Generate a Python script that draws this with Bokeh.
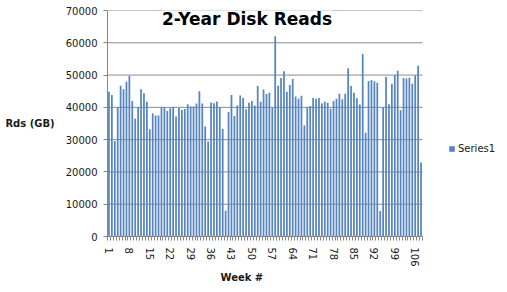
from bokeh.plotting import figure
from bokeh.models import (Range1d, FixedTicker, Label, Title,
                          Legend, LegendItem, ColumnDataSource)
from bokeh.embed import file_html
from bokeh.resources import INLINE

# ---- data ----
weeks = list(range(1, 109))
reads = [
    44800, 43800, 29600, 40000, 46700, 45600, 47900, 49800, 42000, 36500,
    40100, 45600, 44400, 41700, 33200, 38200, 37500, 37500, 40100, 40100,
    38900, 39700, 40100, 37200, 39900, 39200, 39500, 41000, 40300, 40300,
    41200, 45000, 41200, 34100, 29400, 41500, 41300, 41800, 40000, 33300,
    8000, 38600, 43800, 37300, 40600, 43700, 42900, 39400, 41400, 42000,
    40600, 46600, 41700, 45500, 44100, 44500, 39800, 62000, 46700, 49100,
    51200, 44800, 46900, 48800, 43400, 42700, 43600, 34400, 40000, 40400,
    42900, 42700, 42900, 41200, 41700, 41400, 39600, 42000, 42700, 44200,
    42500, 44200, 52100, 46600, 44500, 42800, 40900, 56500, 32100, 48200,
    48500, 48100, 47600, 7900, 40100, 49400, 41000, 47300, 50000, 51300,
    39100, 49100, 48900, 49200, 47300, 49900, 52900, 22900,
]
tick_weeks = [1, 8, 15, 22, 29, 36, 43, 50, 57, 64, 71, 78, 85, 92, 99, 106]
y_ticks = [0, 10000, 20000, 30000, 40000, 50000, 60000, 70000]
title_text = "2-Year Disk Reads"
series_name = "Series1"
x_title = "Week #"
y_title = "Rds (GB)"

FONT = "DejaVu Sans"
BAR = "#5685C2"
GRID = "#8C8C8C"

# frame spans from the y axis to the right edge of the canvas; the category
# axis only uses the left 315 px of it, the rest holds the legend
FRAME_W = 507 - 107
PLOT_W = 315
n = len(weeks)
x_lo = 0.5
x_hi_cat = n + 0.5
x_hi = x_lo + n * FRAME_W / PLOT_W

src = ColumnDataSource(dict(week=weeks, reads=reads))
grid_src = ColumnDataSource(dict(y=y_ticks, x0=[x_lo] * len(y_ticks),
                                 x1=[x_hi_cat] * len(y_ticks)))

p = figure(width=507, height=292, output_backend="svg", toolbar_location=None,
           x_range=Range1d(x_lo, x_hi), y_range=Range1d(y_ticks[0], y_ticks[-1]),
           min_border_left=107, min_border_right=0, min_border_top=10,
           min_border_bottom=56)
p.outline_line_color = None
p.background_fill_color = "white"
p.border_fill_color = "white"
p.xgrid.grid_line_color = None
p.ygrid.grid_line_color = None

# horizontal gridlines limited to the category area
p.segment(x0="x0", x1="x1", y0="y", y1="y", source=grid_src,
          line_color=GRID, line_width=1)

r = p.vbar(x="week", top="reads", width=0.6, source=src,
           fill_color=BAR, line_color=None)

# y axis
ya = p.yaxis[0]
ya.ticker = FixedTicker(ticks=y_ticks)
ya.axis_line_color = "#868686"
ya.major_tick_line_color = "#868686"
ya.major_tick_out = 4
ya.major_tick_in = 0
ya.minor_tick_line_color = None
ya.major_label_text_font = FONT
ya.major_label_text_font_size = "10px"
ya.major_label_text_color = "#1a1a1a"
ya.major_label_standoff = 6
ya.axis_label = y_title
ya.axis_label_orientation = "horizontal"
ya.axis_label_text_font = FONT
ya.axis_label_text_font_size = "10px"
ya.axis_label_text_font_style = "bold"
ya.axis_label_text_color = "#1a1a1a"
ya.axis_label_standoff = 8

# x axis
xa = p.xaxis[0]
xa.bounds = (x_lo, x_hi_cat)
xa.ticker = FixedTicker(ticks=tick_weeks,
                        minor_ticks=[w + 0.5 for w in range(0, n + 1)])
xa.axis_line_color = "#868686"
xa.major_tick_line_color = None
xa.minor_tick_line_color = "#868686"
xa.minor_tick_out = 4
xa.minor_tick_in = 0
xa.major_label_orientation = "vertical"
xa.major_label_text_font = FONT
xa.major_label_text_font_size = "10px"
xa.major_label_text_color = "#1a1a1a"
xa.major_label_standoff = 5

# x axis title, as a side-panel title so that it can sit left of the frame centre
p.add_layout(Title(text=x_title, align="left", offset=113, standoff=0,
                   text_font=FONT, text_font_size="10px",
                   text_font_style="bold", text_color="#1a1a1a"), "below")

# chart title (overlapping the top of plot area, Excel style)
p.add_layout(Label(x=139.5, y=218, x_units="screen", y_units="screen",
                   text=title_text, text_align="center", text_baseline="middle",
                   text_font=FONT, text_font_size="17px", text_font_style="bold",
                   text_color="#000000", background_fill_color="white",
                   background_fill_alpha=1.0))

legend = Legend(items=[LegendItem(label=series_name, renderers=[r])],
                location=(341, 82), orientation="vertical",
                border_line_color=None, background_fill_alpha=0,
                padding=0, margin=0, glyph_width=7, glyph_height=7,
                label_standoff=3, label_text_font=FONT,
                label_text_font_size="10px", label_text_color="#1a1a1a",
                label_height=10)
p.add_layout(legend, "center")

open("out.html", "w").write(file_html(p, INLINE))
